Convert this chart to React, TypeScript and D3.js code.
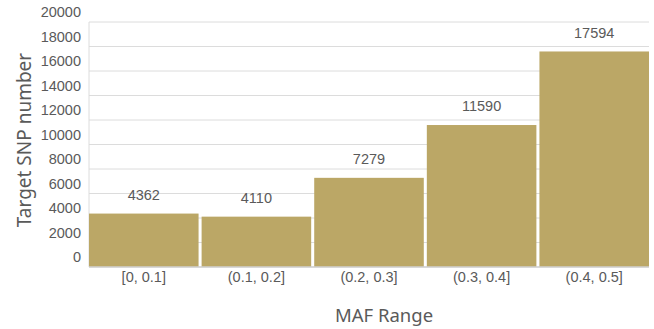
import React from "react";
import * as d3 from "d3";

const categories = ["[0, 0.1]", "(0.1, 0.2]", "(0.2, 0.3]", "(0.3, 0.4]", "(0.4, 0.5]"];
const snpCounts = [4362, 4110, 7279, 11590, 17594];
const yTicks = [0, 2000, 4000, 6000, 8000, 10000, 12000, 14000, 16000, 18000, 20000];

const W = 654;
const H = 329;
const margin = { top: 22, right: 5, bottom: 62, left: 89 };

export default function App() {
  const x = d3
    .scaleBand<string>()
    .domain(categories)
    .range([margin.left, W - margin.right])
    .paddingInner(0.027)
    .paddingOuter(0);
  const y = d3
    .scaleLinear()
    .domain([0, 20000])
    .range([H - margin.bottom, margin.top]);

  const tickFont = "'Liberation Sans', Arial, sans-serif";
  const titleFont = "'Noto Sans', 'Open Sans', sans-serif";
  const tickSize = 14.5;

  return (
    <svg
      width={W}
      height={H}
      style={{ position: "absolute", left: 0, top: 0, background: "#fff" }}
    >
      {yTicks.map((t) => (
        <g key={t}>
          <line
            x1={margin.left}
            x2={W - margin.right}
            y1={y(t)}
            y2={y(t)}
            stroke="#dcdcdc"
            strokeWidth={1}
          />
          <text
            x={margin.left - 8}
            y={y(t) - 10}
            dy="0.35em"
            textAnchor="end"
            fontFamily={tickFont}
            fontSize={tickSize}
            fill="#5a5a5a"
          >
            {t}
          </text>
        </g>
      ))}
      <line
        x1={margin.left}
        x2={margin.left}
        y1={y(20000)}
        y2={y(0)}
        stroke="#dcdcdc"
      />
      {categories.map((c, i) => (
        <g key={c}>
          <rect
            x={x(c)!}
            y={y(snpCounts[i])}
            width={x.bandwidth()}
            height={y(0) - y(snpCounts[i])}
            fill="#bba766"
          />
          <text
            x={x(c)! + x.bandwidth() / 2}
            y={y(snpCounts[i]) - 19}
            dy="0.35em"
            textAnchor="middle"
            fontFamily={tickFont}
            fontSize={tickSize}
            fill="#5a5a5a"
          >
            {snpCounts[i]}
          </text>
          <text
            x={x(c)! + x.bandwidth() / 2}
            y={y(0) + 10}
            dy="0.35em"
            textAnchor="middle"
            fontFamily={tickFont}
            fontSize={tickSize}
            fill="#5a5a5a"
          >
            {c}
          </text>
        </g>
      ))}
      <line
        x1={margin.left}
        x2={W - margin.right}
        y1={y(0)}
        y2={y(0)}
        stroke="#d0d0d0"
        strokeWidth={1.5}
      />
      <text
        x={384}
        y={316}
        dy="0.35em"
        textAnchor="middle"
        fontFamily={titleFont}
        fontSize={18.5}
        fill="#5a5a5a"
      >
        MAF Range
      </text>
      <text
        transform={`translate(24, 140) rotate(-90)`}
        dy="0.35em"
        textAnchor="middle"
        fontFamily={titleFont}
        fontSize={19}
        fill="#5a5a5a"
      >
        Target SNP number
      </text>
    </svg>
  );
}
